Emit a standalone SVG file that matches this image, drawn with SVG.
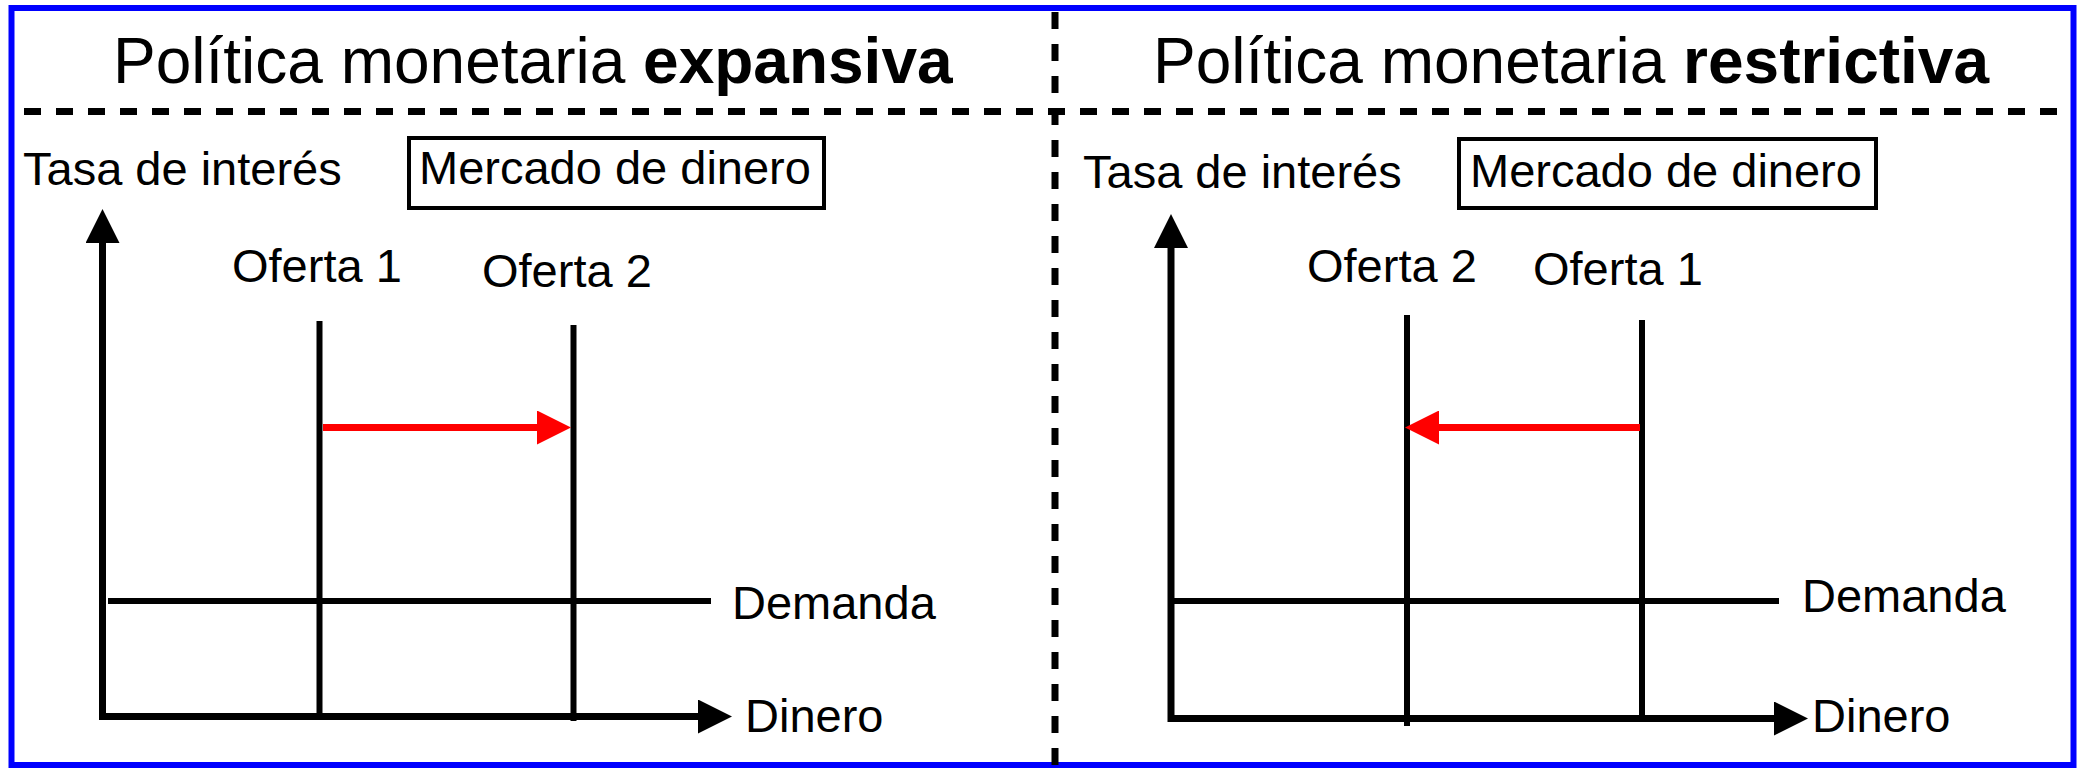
<svg xmlns="http://www.w3.org/2000/svg" width="2083" height="768" viewBox="0 0 2083 768">
<style>
text{font-family:"Liberation Sans",Arial,sans-serif;fill:#000}
.title{font-size:64px}
.lbl{font-size:47px}
.ln{stroke:#000;stroke-width:6;fill:none}
.ax{stroke:#000;stroke-width:7;fill:none}
.dash{stroke:#000;stroke-width:7;stroke-dasharray:17 15;fill:none}
.red{stroke:#ff0000;stroke-width:7;fill:none}
.box{fill:none;stroke:#000;stroke-width:4}
</style>
<defs>
<marker id="ah" markerUnits="userSpaceOnUse" markerWidth="34" markerHeight="34" viewBox="0 0 34 34" refX="0" refY="17" orient="auto">
<path d="M0,0 L34,17 L0,34 Z" fill="#000"/>
</marker>
<marker id="ahr" markerUnits="userSpaceOnUse" markerWidth="34" markerHeight="34" viewBox="0 0 34 34" refX="0" refY="17" orient="auto">
<path d="M0,0 L34,17 L0,34 Z" fill="#ff0000"/>
</marker>
</defs>
<rect x="0" y="0" width="2083" height="768" fill="#fff"/>
<rect id="frame" x="11.5" y="8" width="2062" height="757" fill="none" stroke="#0000ff" stroke-width="6"/>
<g id="dividers">
<line class="dash" x1="24" y1="111.5" x2="2060" y2="111.5"/>
<line class="dash" x1="1055" y1="12" x2="1055" y2="768"/>
</g>
<g id="title-left"><text class="title" x="113" y="83">Política monetaria <tspan font-weight="bold">expansiva</tspan></text></g>
<g id="title-right"><text class="title" x="1153" y="83">Política monetaria <tspan font-weight="bold">restrictiva</tspan></text></g>
<g id="left-panel">
<text class="lbl" x="23" y="185">Tasa de interés</text>
<g id="box-left"><rect class="box" x="409" y="138" width="415" height="70"/><text class="lbl" x="419" y="184">Mercado de dinero</text></g>
<text class="lbl" x="232" y="282">Oferta 1</text>
<text class="lbl" x="482" y="287">Oferta 2</text>
<text class="lbl" x="732" y="619">Demanda</text>
<text class="lbl" x="745" y="732">Dinero</text>
</g>
<g id="right-panel">
<text class="lbl" x="1083" y="188">Tasa de interés</text>
<g id="box-right"><rect class="box" x="1459" y="139" width="417" height="69"/><text class="lbl" x="1470" y="187">Mercado de dinero</text></g>
<text class="lbl" x="1307" y="282">Oferta 2</text>
<text class="lbl" x="1533" y="285">Oferta 1</text>
<text class="lbl" x="1802" y="612">Demanda</text>
<text class="lbl" x="1812" y="732">Dinero</text>
</g>
<g id="connectors">
<line class="ax" x1="102.5" y1="720" x2="102.5" y2="243" marker-end="url(#ah)"/>
<line class="ax" x1="99" y1="716.5" x2="698" y2="716.5" marker-end="url(#ah)"/>
<line class="ln" x1="319.5" y1="321" x2="319.5" y2="713"/>
<line class="ln" x1="573.5" y1="325" x2="573.5" y2="721"/>
<line class="ln" x1="108" y1="601" x2="711" y2="601"/>
<line class="red" x1="323" y1="427.5" x2="537" y2="427.5" marker-end="url(#ahr)"/>
<line class="ax" x1="1171" y1="722" x2="1171" y2="248" marker-end="url(#ah)"/>
<line class="ax" x1="1168" y1="718.5" x2="1774" y2="718.5" marker-end="url(#ah)"/>
<line class="ln" x1="1407" y1="315" x2="1407" y2="726"/>
<line class="ln" x1="1642" y1="320" x2="1642" y2="715"/>
<line class="ln" x1="1174" y1="601" x2="1779" y2="601"/>
<line class="red" x1="1640" y1="427.5" x2="1439" y2="427.5" marker-end="url(#ahr)"/>
</g>
</svg>
